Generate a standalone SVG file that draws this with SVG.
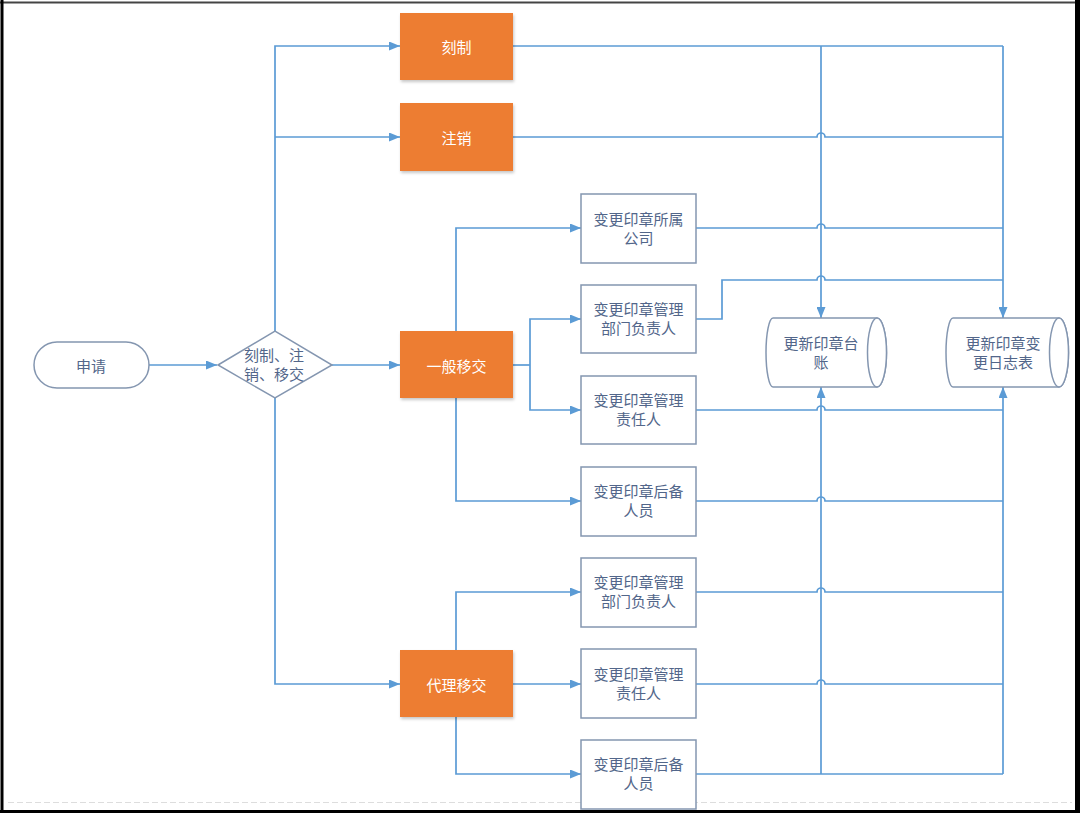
<svg xmlns="http://www.w3.org/2000/svg" width="1080" height="813" viewBox="0 0 1080 813">
<style>
.ln{fill:none;stroke:#5B9BD5;stroke-width:1.7}
.arr{marker-end:url(#ah)}
.org{fill:#ED7D31;filter:url(#sh)}
.wb{fill:#fff;stroke:#8496B0;stroke-width:1.5}
.t{font-family:"Noto Sans CJK SC","Noto Sans",sans-serif;font-size:15px;text-anchor:middle;dominant-baseline:central}
.tw{fill:#fff}
.tb{fill:#52668A}
</style>
<defs>
<marker id="ah" markerUnits="userSpaceOnUse" markerWidth="11" markerHeight="9" refX="11" refY="4.5" orient="auto">
<path d="M0,0 L11,4.5 L0,9 Z" fill="#5B9BD5"/>
</marker>
<filter id="sh" x="-10%" y="-10%" width="130%" height="130%">
<feDropShadow dx="1" dy="2" stdDeviation="1.5" flood-color="#000" flood-opacity="0.22"/>
</filter>
</defs>
<rect x="0" y="0" width="1080" height="813" fill="#fff"/>
<g id="frame">
<line x1="0" y1="2.5" x2="1080" y2="2.5" stroke="#444" stroke-width="2"/>
<line x1="2" y1="0" x2="2" y2="813" stroke="#000" stroke-width="3"/>
<line x1="1077.5" y1="0" x2="1077.5" y2="813" stroke="#000" stroke-width="5"/>
<line x1="0" y1="811.5" x2="1080" y2="811.5" stroke="#000" stroke-width="3"/>
<line x1="8" y1="802.5" x2="1072" y2="802.5" stroke="#ddd" stroke-width="1" stroke-dasharray="6,3"/>
</g>
<g id="connectors">
<path class="ln arr" d="M149,365 H217"/>
<path class="ln arr" d="M332,365 H400"/>
<path class="ln arr" d="M275,331 V46 H400"/>
<path class="ln arr" d="M275,137 H400"/>
<path class="ln arr" d="M275,398 V684 H400"/>
<path class="ln arr" d="M456,331 V228 H581"/>
<path class="ln" d="M513,365 H530"/>
<path class="ln arr" d="M530,365 V319 H581"/>
<path class="ln arr" d="M530,365 V410 H581"/>
<path class="ln arr" d="M456,398 V501 H581"/>
<path class="ln arr" d="M456,650 V592 H581"/>
<path class="ln arr" d="M513,684 H581"/>
<path class="ln arr" d="M456,717 V774 H581"/>
<path class="ln" d="M513,46 H1003"/>
<path class="ln arr" d="M821,46 V318"/>
<path class="ln arr" d="M1003,46 V318"/>
<path class="ln" d="M513,137 H817 a4,4 0 0 1 8,0 H1003"/>
<path class="ln" d="M696,228 H817 a4,4 0 0 1 8,0 H1003"/>
<path class="ln" d="M696,319 H722 V280 H817 a4,4 0 0 1 8,0 H1003"/>
<path class="ln" d="M696,410 H817 a4,4 0 0 1 8,0 H1003"/>
<path class="ln" d="M696,501 H817 a4,4 0 0 1 8,0 H1003"/>
<path class="ln" d="M696,592 H817 a4,4 0 0 1 8,0 H1003"/>
<path class="ln" d="M696,684 H817 a4,4 0 0 1 8,0 H1003"/>
<path class="ln" d="M696,774 H1003"/>
<path class="ln arr" d="M821,774 V387"/>
<path class="ln arr" d="M1003,774 V387"/>
</g>
<g id="n_apply">
<rect x="34" y="342" width="115" height="46" rx="23" class="wb"/>
<text x="91" y="365" class="t tb">申请</text>
</g>
<g id="n_decision">
<polygon points="218,365 275,331 332,365 275,398" class="wb"/>
<text x="274" y="354" class="t tb">刻制、注</text>
<text x="274" y="373" class="t tb">销、移交</text>
</g>
<g id="n_engrave">
<rect x="400" y="13" width="113" height="67" class="org"/>
<text x="456.5" y="46" class="t tw">刻制</text>
</g>
<g id="n_cancel">
<rect x="400" y="103" width="113" height="68" class="org"/>
<text x="456.5" y="137" class="t tw">注销</text>
</g>
<g id="n_general">
<rect x="400" y="331" width="113" height="67" class="org"/>
<text x="456.5" y="365" class="t tw">一般移交</text>
</g>
<g id="n_agent">
<rect x="400" y="650" width="113" height="67" class="org"/>
<text x="456.5" y="684" class="t tw">代理移交</text>
</g>
<g id="b1">
<rect x="581" y="194" width="115" height="69" class="wb"/>
<text x="638.5" y="218" class="t tb">变更印章所属</text>
<text x="638.5" y="237" class="t tb">公司</text>
</g>
<g id="b2">
<rect x="581" y="285" width="115" height="68" class="wb"/>
<text x="638.5" y="308" class="t tb">变更印章管理</text>
<text x="638.5" y="327" class="t tb">部门负责人</text>
</g>
<g id="b3">
<rect x="581" y="376" width="115" height="68" class="wb"/>
<text x="638.5" y="399" class="t tb">变更印章管理</text>
<text x="638.5" y="418" class="t tb">责任人</text>
</g>
<g id="b4">
<rect x="581" y="467" width="115" height="69" class="wb"/>
<text x="638.5" y="490" class="t tb">变更印章后备</text>
<text x="638.5" y="509" class="t tb">人员</text>
</g>
<g id="b5">
<rect x="581" y="558" width="115" height="69" class="wb"/>
<text x="638.5" y="581" class="t tb">变更印章管理</text>
<text x="638.5" y="600" class="t tb">部门负责人</text>
</g>
<g id="b6">
<rect x="581" y="649" width="115" height="69" class="wb"/>
<text x="638.5" y="673" class="t tb">变更印章管理</text>
<text x="638.5" y="692" class="t tb">责任人</text>
</g>
<g id="b7">
<rect x="581" y="740" width="115" height="69" class="wb"/>
<text x="638.5" y="763" class="t tb">变更印章后备</text>
<text x="638.5" y="782" class="t tb">人员</text>
</g>
<g id="c1">
<path d="M773,318 H877 A9.5,34.5 0 0 1 877,387 H773 A7,34.5 0 0 1 773,318 Z" class="wb"/>
<ellipse cx="877" cy="352.5" rx="9.5" ry="34.5" class="wb"/>
<text x="821" y="342" class="t tb">更新印章台</text>
<text x="821" y="361" class="t tb">账</text>
</g>
<g id="c2">
<path d="M953,318 H1059 A9.5,34.5 0 0 1 1059,387 H953 A7,34.5 0 0 1 953,318 Z" class="wb"/>
<ellipse cx="1059" cy="352.5" rx="9.5" ry="34.5" class="wb"/>
<text x="1003" y="342" class="t tb">更新印章变</text>
<text x="1003" y="361" class="t tb">更日志表</text>
</g>
</svg>
